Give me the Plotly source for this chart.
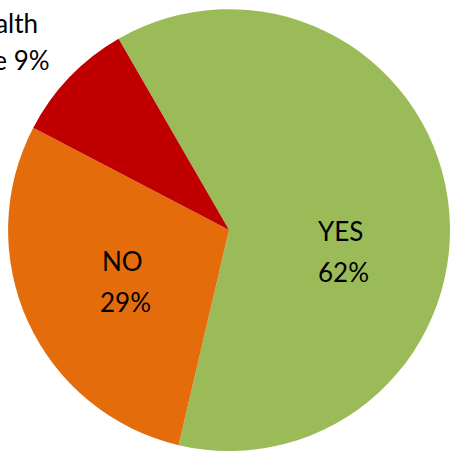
import plotly.graph_objects as go

# Survey answers, in clockwise order starting at the top-left boundary
answers = ["YES", "NO", "Health issue"]
shares = [62, 29, 9]
colors = ["#9BBB59", "#E46C0A", "#C00000"]

# Label placement for each slice (pixel centres of the name and percentage lines)
label_lines = {
    "YES": [(340, 231), (343, 272)],
    "NO": [(123, 261), (125, 302)],
    "Health issue": [(0, 23), (0, 60)],
}

W, H = 450, 454

fig = go.Figure(
    go.Pie(
        labels=answers,
        values=shares,
        marker=dict(colors=colors, line=dict(width=0)),
        sort=False,
        direction="clockwise",
        rotation=-30,
        textinfo="none",
        hoverinfo="label+percent",
        domain=dict(x=[0.018, 1.0], y=[0.0044, 0.982]),
        showlegend=False,
    )
)

font = dict(family="Lato, Calibri, sans-serif", size=26, color="#000000")
annotations = []
for name, share in zip(answers, shares):
    (x1, y1), (x2, y2) = label_lines[name]
    if name == "Health issue":
        first, second = "Health", f"issue {share}%"
    else:
        first, second = name, f"{share}%"
    for text, (px, py) in ((first, (x1, y1)), (second, (x2, y2))):
        annotations.append(
            dict(
                text=text,
                x=px / W,
                y=1 - py / H,
                xref="paper",
                yref="paper",
                xanchor="center",
                yanchor="middle",
                showarrow=False,
                font=font,
            )
        )

fig.update_layout(
    width=W,
    height=H,
    margin=dict(l=0, r=0, t=0, b=0),
    paper_bgcolor="white",
    plot_bgcolor="white",
    annotations=annotations,
)

fig.write_html("out.html")
